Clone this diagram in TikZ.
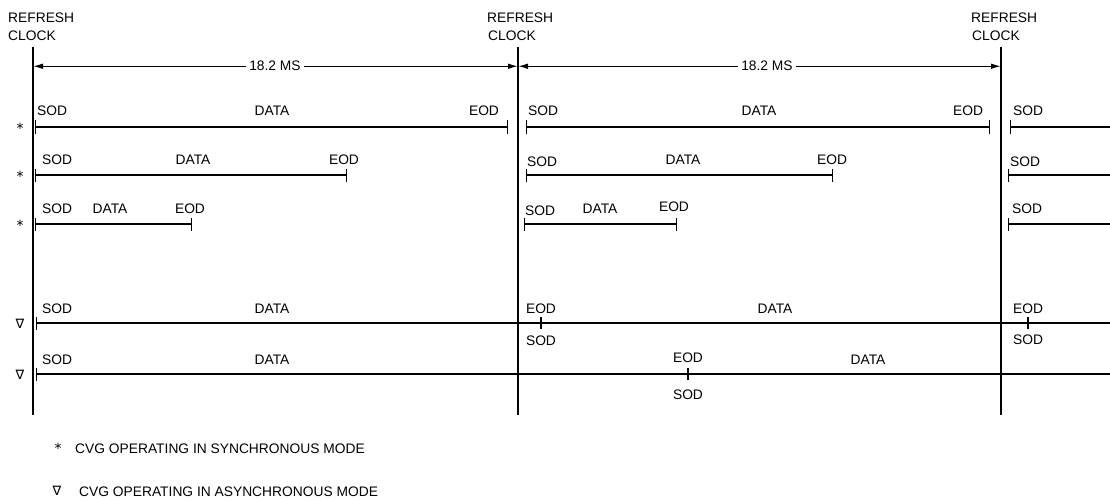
\documentclass[tikz,border=0pt]{standalone}
\usepackage{fontspec}
\setmainfont{Liberation Sans}
\newfontfamily\symfont{DejaVu Sans}
\usetikzlibrary{arrows.meta}
\begin{document}
\begin{tikzpicture}[x=1pt,y=-1pt,
  txt/.style={font=\fontsize{13.8}{16}\selectfont, inner sep=0pt},
  lw/.style={txt, anchor=base west},
  lc/.style={txt, anchor=base},
  clk/.style={line width=1.5pt},
  seg/.style={line width=1.3pt, {Bar[width=13pt]}-{Bar[width=13pt]}},
  segl/.style={line width=1.3pt, {Bar[width=13pt]}-},
  tick/.style={line width=1.3pt},
  dimline/.style={line width=1.1pt, -{Latex[length=10pt,width=5.5pt]}},
  symb/.style={font=\symfont\fontsize{13}{14}\selectfont, inner sep=0pt},
  star/.style={font=\symfont\fontsize{14}{14}\selectfont, inner sep=0pt}
]
\useasboundingbox (0,0) rectangle (1110,500);

% clock lines
\coordinate (k1t) at (33,47);  \coordinate (k1b) at (33,415);
\coordinate (k2t) at (518,47); \coordinate (k2b) at (518,415);
\coordinate (k3t) at (1001,47);\coordinate (k3b) at (1001,415);
\draw[clk] (k1t) -- (k1b);
\draw[clk] (k2t) -- (k2b);
\draw[clk] (k3t) -- (k3b);

\node[lw] (rf1) at (8,23) {REFRESH};  \node[lw] (ck1) at (8,41) {CLOCK};
\node[lw] (rf2) at (487,23) {REFRESH}; \node[lw] (ck2) at (488,41) {CLOCK};
\node[lw] (rf3) at (971,23) {REFRESH}; \node[lw] (ck3) at (972,41) {CLOCK};

% dimension
\coordinate (k1) at (33,66); \coordinate (k2) at (518,66); \coordinate (k3) at (1001,66);
\node[txt, inner xsep=3pt, anchor=base] (d1) at (275,71) {18.2 MS};
\node[txt, inner xsep=3pt, anchor=base] (d2) at (767,71) {18.2 MS};
\draw[dimline] (d1.west) -- (d1.west -| k1);
\draw[dimline] (d1.east) -- (d1.east -| k2);
\draw[dimline] (d2.west) -- (d2.west -| k2);
\draw[dimline] (d2.east) -- (d2.east -| k3);

% row markers
\node[star] (s1) at (20,128) {*};
\node[star] (s2) at (20,176) {*};
\node[star] (s3) at (20,225) {*};
\node[symb] (n4) at (20,324) {∇};
\node[symb] (n5) at (20,375) {∇};

% row 1
\coordinate (a1) at (35,127); \coordinate (a2) at (508,127);
\coordinate (a3) at (526,127); \coordinate (a4) at (990,127);
\coordinate (a5) at (1010,127); \coordinate (a6) at (1110,127);
\draw[seg] (a1) -- (a2); \draw[seg] (a3) -- (a4); \draw[segl] (a5) -- (a6);
\node[lw] (a1s) at (37,116) {SOD}; \node[lc] (a1d) at (272,116) {DATA}; \node[lc] (a1e) at (484,116) {EOD};
\node[lw] (a2s) at (528,116) {SOD}; \node[lc] (a2d) at (759,116) {DATA}; \node[lc] (a2e) at (968,116) {EOD};
\node[lw] (a3s) at (1013,116) {SOD};

% row 2
\coordinate (b1) at (35,175); \coordinate (b2) at (347,175);
\coordinate (b3) at (526,175); \coordinate (b4) at (833,175);
\coordinate (b5) at (1008,175); \coordinate (b6) at (1110,175);
\draw[seg] (b1) -- (b2); \draw[seg] (b3) -- (b4); \draw[segl] (b5) -- (b6);
\node[lw] (b1s) at (42,164) {SOD}; \node[lc] (b1d) at (193,164) {DATA}; \node[lc] (b1e) at (344,164) {EOD};
\node[lw] (b2s) at (527,166) {SOD}; \node[lc] (b2d) at (683,164) {DATA}; \node[lc] (b2e) at (832,164) {EOD};
\node[lw] (b3s) at (1010,166) {SOD};

% row 3
\coordinate (c1) at (35,224); \coordinate (c2) at (192,224);
\coordinate (c3) at (524,224); \coordinate (c4) at (677,224);
\coordinate (c5) at (1008,224); \coordinate (c6) at (1110,224);
\draw[seg] (c1) -- (c2); \draw[seg] (c3) -- (c4); \draw[segl] (c5) -- (c6);
\node[lw] (c1s) at (42,213) {SOD}; \node[lc] (c1d) at (110,213) {DATA}; \node[lc] (c1e) at (190,213) {EOD};
\node[lw] (c2s) at (525,215) {SOD}; \node[lc] (c2d) at (600,213) {DATA}; \node[lc] (c2e) at (674,211) {EOD};
\node[lw] (c3s) at (1012,213) {SOD};

% row 4
\coordinate (e1) at (36,323); \coordinate (e2) at (1110,323);
\coordinate (e3) at (541,323); \coordinate (e4) at (1028,323);
\draw[segl] (e1) -- (e2);
\draw[tick] ([yshift=-6pt]e3) -- ([yshift=6pt]e3);
\draw[tick] ([yshift=-6pt]e4) -- ([yshift=6pt]e4);
\node[lw] (e1s) at (42,313) {SOD}; \node[lc] (e1d) at (272,313) {DATA};
\node[lc] (e2e) at (541,313) {EOD}; \node[lc] (e2s) at (541,345) {SOD};
\node[lc] (e2d) at (775,313) {DATA};
\node[lc] (e3e) at (1028,313) {EOD}; \node[lc] (e3s) at (1028,344) {SOD};

% row 5
\coordinate (f1) at (36,374); \coordinate (f2) at (1110,374);
\coordinate (f3) at (688,374);
\draw[segl] (f1) -- (f2);
\draw[tick] ([yshift=-6pt]f3) -- ([yshift=6pt]f3);
\node[lw] (f1s) at (42,364) {SOD}; \node[lc] (f1d) at (272,364) {DATA};
\node[lc] (f2e) at (688,362) {EOD}; \node[lc] (f2s) at (688,399) {SOD};
\node[lc] (f2d) at (868,364) {DATA};

% legend
\node[star] (l1m) at (58,448) {*};
\node[lw] (l1) at (75,453) {CVG OPERATING IN SYNCHRONOUS MODE};
\node[symb] (l2m) at (57,491) {∇};
\node[lw] (l2) at (79,496) {CVG OPERATING IN ASYNCHRONOUS MODE};
\end{tikzpicture}
\end{document}
